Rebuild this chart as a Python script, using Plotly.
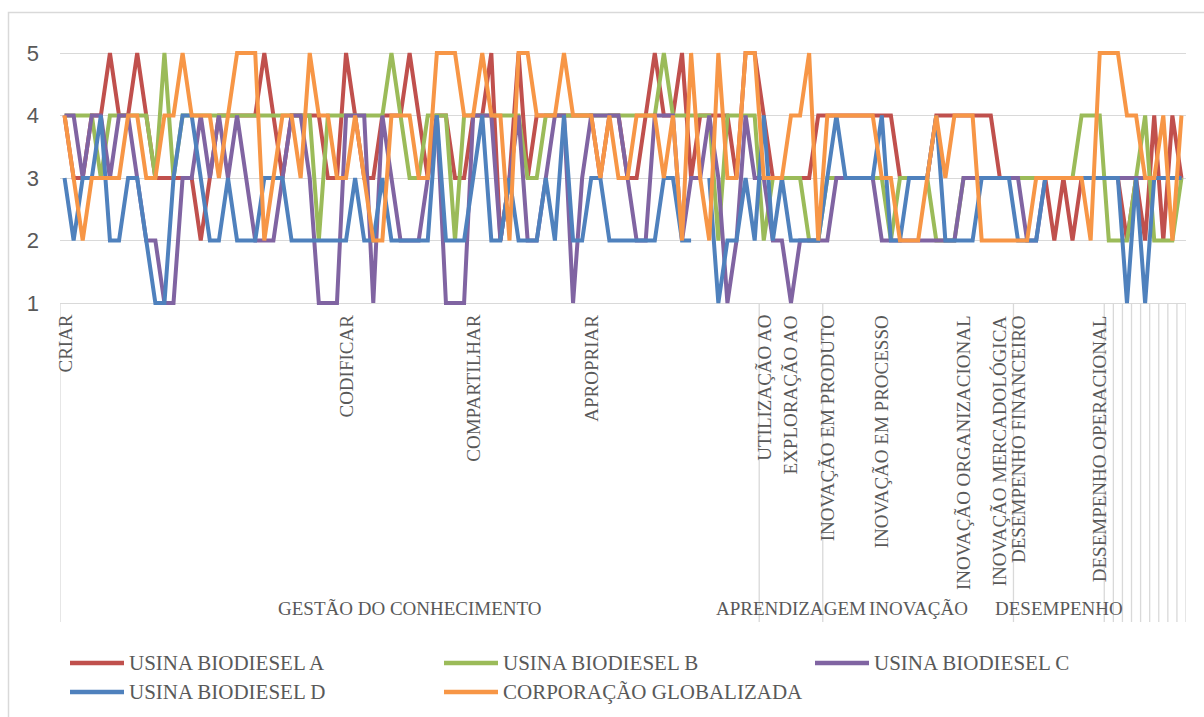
import plotly.graph_objects as go

# ---------------- data ----------------
series_names = [
    "USINA BIODIESEL A",
    "USINA BIODIESEL B",
    "USINA BIODIESEL C",
    "USINA BIODIESEL D",
    "CORPORAÇÃO GLOBALIZADA",
]

usina_a = [
    4, 3, 3, 4, 4, 5, 4, 4, 5, 4,
    3, 3, 3, 3, 3, 2, 3, 4, 4, 4,
    4, 4, 5, 4, 3, 4, 4, 4, 4, 3,
    3, 5, 4, 3, 3, 4, 4, 4, 5, 4,
    3, 4, 4, 3, 3, 4, 4, 5, 2, 3,
    5, 3, 4, 4, 4, 4, 4, 4, 4, 3,
    4, 4, 3, 3, 4, 5, 4, 4, 5, 3,
    4, 4, 4, 4, 3, 5, 5, 4, 3, 3,
    3, 3, 3, 4, 4, 4, 4, 4, 4, 4,
    4, 4, 3, 3, 3, 3, 4, 4, 4, 4,
    4, 4, 4, 3, 3, 3, 3, 3, 3, 2,
    3, 2, 3, 3, 3, 3, 3, 2, 3, 2,
    4, 2, 4, 3,
]

usina_b = [
    4, 4, 4, 4, 3, 4, 4, 4, 4, 4,
    3, 5, 3, 4, 4, 4, 4, 4, 4, 4,
    4, 4, 4, 4, 4, 4, 4, 4, 2, 4,
    4, 4, 4, 4, 4, 4, 5, 4, 3, 3,
    4, 4, 4, 2, 4, 4, 4, 4, 4, 4,
    4, 3, 3, 4, 4, 4, 4, 4, 4, 4,
    4, 4, 4, 4, 4, 4, 5, 4, 4, 4,
    4, 4, 2, 4, 4, 4, 4, 2, 3, 3,
    3, 3, 2, 2, 3, 3, 3, 3, 3, 3,
    3, 2, 3, 3, 3, 3, 2, 2, 2, 3,
    3, 3, 3, 3, 3, 3, 3, 3, 3, 3,
    3, 3, 4, 4, 4, 2, 2, 2, 3, 4,
    2, 2, 2, 3,
]

usina_c = [
    4, 4, 3, 4, 4, 3, 4, 4, 3, 2,
    2, 1, 1, 3, 3, 4, 3, 4, 3, 4,
    3, 2, 2, 2, 3, 4, 4, 3, 1, 1,
    1, 4, 4, 4, 1, 4, 3, 2, 2, 2,
    3, 4, 1, 1, 1, 4, 4, 4, 2, 3,
    4, 2, 2, 3, 4, 4, 1, 3, 4, 4,
    4, 4, 3, 2, 2, 4, 4, 4, 2, 3,
    3, 4, 3, 1, 2, 4, 3, 3, 2, 2,
    1, 2, 2, 2, 2, 3, 3, 3, 3, 3,
    2, 2, 2, 2, 2, 2, 2, 2, 2, 3,
    3, 3, 3, 3, 3, 3, 2, 2, 3, 3,
    3, 3, 3, 3, 3, 3, 3, 3, 3, 3,
    3, 3, 3, 3,
]

usina_d = [
    3, 2, 3, 3, 4, 2, 2, 3, 3, 2,
    1, 1, 3, 4, 4, 3, 2, 2, 3, 2,
    2, 2, 3, 3, 3, 2, 2, 2, 2, 2,
    2, 2, 3, 2, 2, 3, 2, 2, 2, 2,
    2, 4, 2, 2, 2, 3, 4, 2, 2, 3,
    2, 2, 2, 3, 2, 4, 2, 2, 3, 3,
    2, 2, 2, 2, 2, 2, 3, 3, 2, 2,
    None, 3, 1, 2, 2, 3, 2, 4, 2, 3,
    2, 2, 2, 2, 3, 4, 3, 3, 3, 3,
    4, 2, 2, 3, 3, 3, 4, 2, 2, 2,
    2, 3, 3, 3, 3, 2, 2, 2, 3, 3,
    3, 3, 3, 3, 3, 3, 3, 1, 3, 1,
    3, 3, 3, 3,
]

corporacao = [
    4, 3, 2, 3, 3, 3, 3, 4, 4, 3,
    3, 4, 4, 5, 4, 4, 4, 3, 4, 5,
    5, 5, 2, 3, 4, 4, 3, 5, 4, 4,
    3, 3, 4, 3, 2, 2, 4, 4, 4, 3,
    3, 5, 5, 5, 4, 4, 5, 4, 4, 2,
    5, 5, 4, 4, 4, 5, 4, 4, 4, 3,
    4, 3, 3, 4, 4, 4, 3, 4, 2, 5,
    3, 2, 5, 3, 3, 5, 5, 3, 3, 3,
    4, 4, 5, 2, 4, 4, 4, 4, 4, 4,
    3, 3, 2, 2, 2, 3, 4, 3, 4, 4,
    4, 2, 2, 2, 2, 2, 2, 3, 3, 3,
    3, 3, 3, 2, 5, 5, 5, 4, 4, 3,
    3, 4, 2, 4,
]

# sub-dimension labels and the category where each one starts
sub_labels = [
    "CRIAR", "CODIFICAR", "COMPARTILHAR", "APROPRIAR",
    "UTILIZAÇÃO AO", "EXPLORAÇÃO AO",
    "INOVAÇÃO EM PRODUTO", "INOVAÇÃO EM PROCESSO",
    "INOVAÇÃO ORGANIZACIONAL", "INOVAÇÃO MERCADOLÓGICA",
    "DESEMPENHO FINANCEIRO", "DESEMPENHO OPERACIONAL",
]
sub_label_index = [0, 31, 45, 58, 77, 80, 84, 90, 99, 103, 105, 114]

# dimension groups (trailing single-item groups carry no name)
group_labels = ["GESTÃO DO CONHECIMENTO", "APRENDIZAGEM", "INOVAÇÃO", "DESEMPENHO",
                "", "", "", "", "", "", "", "", ""]
group_sizes = [77, 7, 21, 10, 1, 1, 1, 1, 1, 1, 1, 1, 1]

y_ticks = [1, 2, 3, 4, 5]

# ---------------- styling ----------------
colors = ["#C0504D", "#9BBB59", "#8064A2", "#4F81BD", "#F79646"]
GRID = "#D9D9D9"
TEXT = "#595959"
SERIF = "Liberation Serif, Times New Roman, serif"

W, H = 1204, 717
PLOT_L, PLOT_R = 60, 1186
PLOT_T, PLOT_B = 50, 306          # pixel box of the plotting area
PAD = (PLOT_B - PLOT_T) / 62.5 - 4  # extra range so peaks at 5 are not clipped
Y_RANGE = [1 - PAD / 2, 5 + PAD / 2]


def py(px_y):
    """pixel row -> paper y"""
    return (PLOT_B - px_y) / (PLOT_B - PLOT_T)


def px(px_x):
    """pixel column -> paper x"""
    return (px_x - PLOT_L) / (PLOT_R - PLOT_L)


n = len(usina_a)
x_vals = list(range(n))

fig = go.Figure()
for name, vals, col in zip(series_names,
                           [usina_a, usina_b, usina_c, usina_d, corporacao],
                           colors):
    fig.add_trace(go.Scatter(
        x=x_vals, y=vals, mode="lines", name=name,
        line=dict(color=col, width=4),
        connectgaps=False, showlegend=False,
    ))

# paper y of the value-1 baseline
y_base = (1 - Y_RANGE[0]) / (Y_RANGE[1] - Y_RANGE[0])

shapes = []
annotations = []

# group divider lines below the axis
edges = [-0.5]
for s in group_sizes:
    edges.append(edges[-1] + s)
for e in edges:
    shapes.append(dict(type="line", xref="x", yref="paper",
                       x0=e, x1=e, y0=y_base, y1=py(622),
                       line=dict(color=GRID, width=1.3)))

# rotated sub-dimension labels
for lab, idx in zip(sub_labels, sub_label_index):
    annotations.append(dict(
        x=idx, y=py(313), xref="x", yref="paper",
        text=lab, textangle=-90, showarrow=False,
        xanchor="center", yanchor="top",
        font=dict(family=SERIF, size=19, color=TEXT),
    ))

# dimension labels
start = -0.5
for lab, s in zip(group_labels, group_sizes):
    if lab:
        annotations.append(dict(
            x=start + s / 2, y=py(608), xref="x", yref="paper",
            text=lab, showarrow=False, xanchor="center", yanchor="middle",
            font=dict(family=SERIF, size=19, color=TEXT),
        ))
    start += s

# legend: three entries per row
legend_cols = [70, 444, 815]
legend_rows = [663, 692]
for k, (name, col) in enumerate(zip(series_names, colors)):
    lx = legend_cols[k % 3]
    ly = legend_rows[k // 3]
    shapes.append(dict(type="line", xref="paper", yref="paper",
                       x0=px(lx), x1=px(lx + 54), y0=py(ly), y1=py(ly),
                       line=dict(color=col, width=4.5)))
    annotations.append(dict(
        x=px(lx + 57), y=py(ly), xref="paper", yref="paper",
        text=name, showarrow=False, xanchor="left", yanchor="middle",
        font=dict(family=SERIF, size=21, color=TEXT),
    ))

# outer chart border (top and left edges fall inside the image)
shapes.append(dict(type="rect", xref="paper", yref="paper",
                   x0=px(8.5), x1=px(1230), y0=py(760), y1=py(12.5),
                   line=dict(color=GRID, width=1.5), fillcolor="rgba(0,0,0,0)"))

fig.update_layout(
    width=W, height=H,
    margin=dict(l=PLOT_L, r=W - PLOT_R, t=PLOT_T, b=H - PLOT_B),
    paper_bgcolor="white", plot_bgcolor="white",
    xaxis=dict(range=[-0.5, n - 0.5], showticklabels=False, showgrid=False,
               zeroline=False, showline=False, ticks=""),
    yaxis=dict(range=Y_RANGE, tickvals=y_ticks, showgrid=True, gridcolor=GRID,
               gridwidth=1.3, zeroline=False, showline=False, ticks="",
               ticklabelstandoff=20,
               tickfont=dict(family="Liberation Sans, Arial, sans-serif",
                             size=22, color=TEXT)),
    shapes=shapes,
    annotations=annotations,
    showlegend=False,
)

fig.write_html("out.html")
